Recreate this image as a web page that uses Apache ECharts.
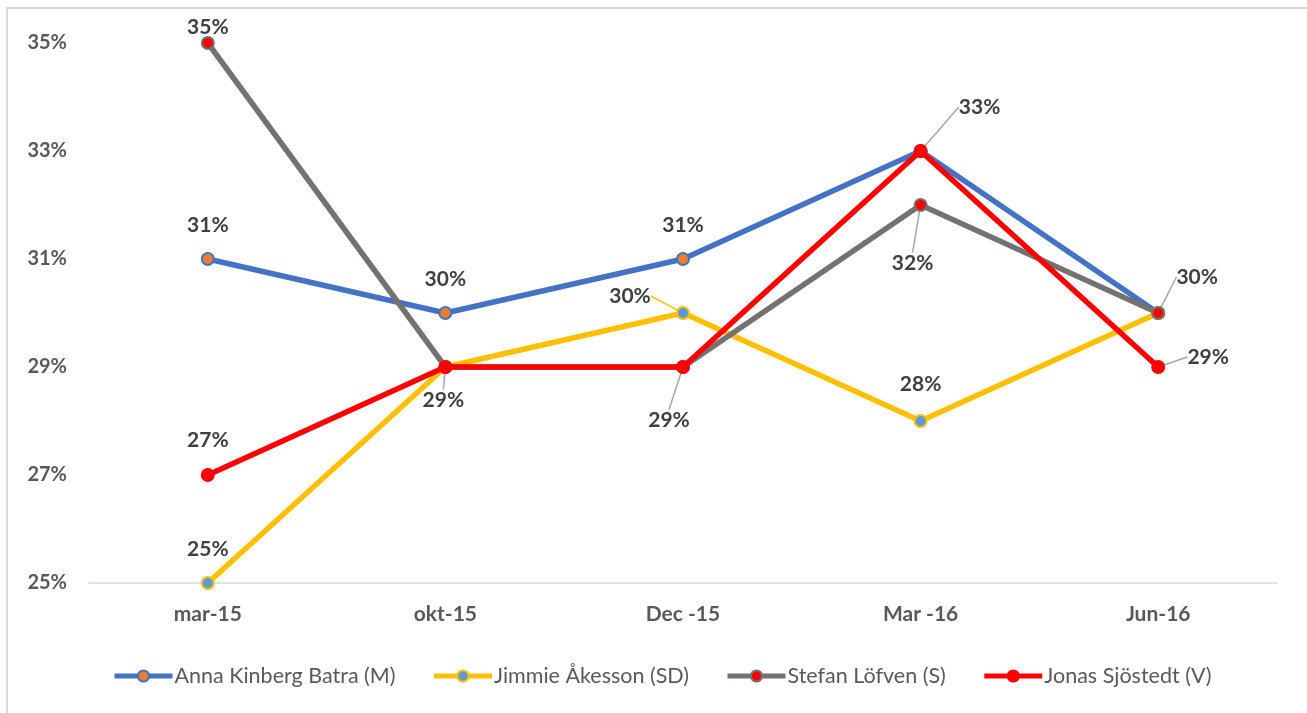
<!DOCTYPE html>
<html>
<head>
<meta charset="utf-8">
<script src="https://cdn.jsdelivr.net/npm/echarts@6/dist/echarts.min.js"></script>
<style>
html,body{margin:0;padding:0;background:#fff;}
#frame{position:absolute;left:6px;top:7px;width:1400px;height:800px;border-left:2px solid #D9D9D9;border-top:2px solid #D9D9D9;}
#chart{position:absolute;left:0;top:0;width:1307px;height:713px;}
</style>
</head>
<body>
<div id="frame"></div>
<div id="chart"></div>
<script>
// ---- data ----
var categories = ['mar-15', 'okt-15', 'Dec -15', 'Mar -16', 'Jun-16'];
var seriesNames = ['Anna Kinberg Batra (M)', 'Jimmie Åkesson (SD)', 'Stefan Löfven (S)', 'Jonas Sjöstedt (V)'];
var anna   = [31, 30, 31, 33, 30];
var jimmie = [25, 29, 30, 28, 30];
var stefan = [35, 29, 29, 32, 30];
var jonas  = [27, 29, 29, 33, 29];
var yTicks = [25, 27, 29, 31, 33, 35];

// ---- label placement (offsets from point, px) ; null = no label ----
var labelSpec = [
  [[0,-34,0],[0,-34,0],[0,-34,0],null,null],
  [[0,-34,0],null,[-53,-17,1],[0,-37,0],null],
  [[0,-16,0],[-2,33,1],[-14,53,1],[-8,58,1],[39,-36,1]],
  [[0,-35,0],null,null,[59,-44,1],[50,-10,1]]
];

var styles = [
  {line:'#4472C4', fill:'#ED7D31', border:'#4472C4'},
  {line:'#FFC000', fill:'#5B9BD5', border:'#FFC000'},
  {line:'#767171', fill:'#FF0000', border:'#767171'},
  {line:'#FF0000', fill:'#FF0000', border:'#FF0000'}
];
var values = [anna, jimmie, stefan, jonas];

var chart = echarts.init(document.getElementById('chart'));
var series = values.map(function(vals, si){
  var st = styles[si];
  return {
    name: seriesNames[si],
    type: 'line',
    symbol: 'circle',
    symbolSize: 12,
    lineStyle: {color: st.line, width: 5.5},
    itemStyle: {color: st.fill, borderColor: st.border, borderWidth: 2},
    emphasis: {disabled: true},
    z: 2 + si,
    data: vals.map(function(v, di){
      var sp = labelSpec[si][di];
      return {
        value: v,
        label: {show: !!sp},
        labelLine: {show: !!(sp && sp[2]), lineStyle: {color: si === 1 ? '#FFC000' : '#A6A6A6', width: 1.5}}
      };
    }),
    label: {
      position: 'inside',
      formatter: '{c}%',
      fontFamily: 'Lato',
      fontWeight: 'bold',
      fontSize: 21,
      color: '#404040'
    },
    labelLayout: function(p){
      var sp = labelSpec[si][p.dataIndex];
      if (!sp) return {};
      return {dx: sp[0], dy: sp[1]};
    }
  };
});

chart.setOption({
  animation: false,
  color: styles.map(function(s){return s.line;}),
  grid: {left: 89, right: 30, top: 43, bottom: 130},
  legend: {
    data: seriesNames,
    left: 107,
    top: 660,
    itemWidth: 58,
    itemHeight: 14,
    itemGap: 36,
    lineStyle: {width: 5},
    textStyle: {fontFamily: 'Lato', fontSize: 21.5, color: '#595959', padding: [0,0,0,-3]}
  },
  xAxis: {
    type: 'category',
    data: categories,
    boundaryGap: true,
    axisLine: {lineStyle: {color: '#D9D9D9', width: 1.5}},
    axisTick: {show: false},
    axisLabel: {fontFamily: 'Lato', fontWeight: 'bold', fontSize: 21, color: '#595959', margin: 21}
  },
  yAxis: {
    type: 'value',
    min: 25,
    max: 35,
    axisLine: {show: false},
    axisTick: {show: false},
    splitLine: {show: false},
    axisLabel: {
      customValues: yTicks,
      formatter: '{value}%',
      fontFamily: 'Lato', fontWeight: 'bold', fontSize: 20, color: '#595959', margin: 22
    }
  },
  series: series
});
</script>
</body>
</html>
